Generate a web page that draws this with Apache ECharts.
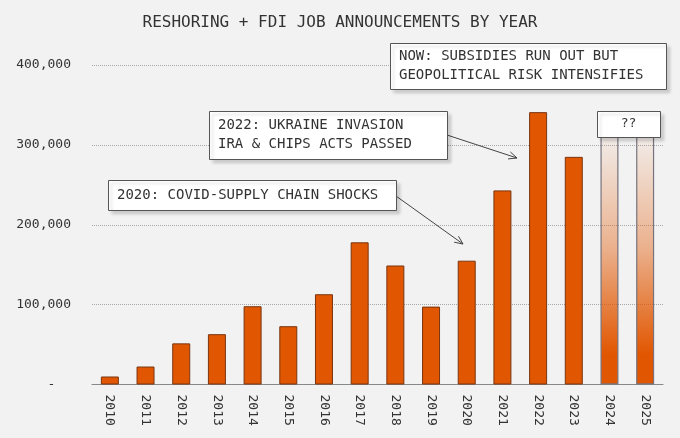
<!DOCTYPE html>
<html>
<head>
<meta charset="utf-8">
<script src="https://cdn.jsdelivr.net/npm/echarts@6/dist/echarts.min.js"></script>
<style>
  html, body { margin: 0; padding: 0; background: #f2f2f2; }
  #chart { width: 680px; height: 438px; }
</style>
</head>
<body>
<div id="chart"></div>
<script>
// data
const years = ['2010', '2011', '2012', '2013', '2014', '2015', '2016', '2017',
  '2018', '2019', '2020', '2021', '2022', '2023', '2024', '2025'];
const jobs = [10000, 22500, 51500, 63000, 98000, 73000, 113000, 178000,
  149000, 97500, 155000, 243000, 341000, 285000, null, null];
const projected = [null, null, null, null, null, null, null, null,
  null, null, null, null, null, null, 310000, 310000];
const yTicks = [0, 100000, 200000, 300000, 400000];

const FONT = '"DejaVu Sans Mono", "Liberation Mono", monospace';
const INK = '#333';

// annotation box: white rect with soft shadow + lines of text
const noteBox = (x, y, w, h, lines, opts = {}) => {
  const size = opts.size || 14;
  const lh = opts.lineHeight || 18.5;
  const children = [{
    type: 'rect',
    z: 100,
    shape: { x: x + 0.5, y: y + 0.5, width: w, height: h },
    style: {
      fill: '#fff', stroke: '#555', lineWidth: 1,
      shadowColor: 'rgba(0,0,0,0.16)', shadowOffsetX: 3, shadowOffsetY: 3, shadowBlur: 3
    }
  }];
  const top = y + h / 2 - (lines.length - 1) * lh / 2;
  lines.forEach((t, i) => {
    children.push({
      type: 'text',
      z: 101,
      style: {
        text: t,
        x: opts.center ? x + w / 2 : x + 9,
        y: top + i * lh,
        font: `${size}px ${FONT}`,
        fill: INK,
        align: opts.center ? 'center' : 'left',
        verticalAlign: 'middle'
      }
    });
  });
  return { type: 'group', children };
};

// thin line with an open "V" head
const arrow = (x0, y0, x1, y1) => {
  const a = Math.atan2(y1 - y0, x1 - x0);
  const len = 9, spread = 0.42;
  const h1 = [x1 - len * Math.cos(a - spread), y1 - len * Math.sin(a - spread)];
  const h2 = [x1 - len * Math.cos(a + spread), y1 - len * Math.sin(a + spread)];
  const st = { stroke: '#444', lineWidth: 1, fill: null };
  return {
    type: 'group',
    children: [
      { type: 'polyline', z: 99, shape: { points: [[x0, y0], [x1, y1]] }, style: st },
      { type: 'polyline', z: 99, shape: { points: [h1, [x1, y1], h2] }, style: st }
    ]
  };
};

const chart = echarts.init(document.getElementById('chart'));

chart.setOption({
  backgroundColor: '#f2f2f2',
  animation: false,
  title: {
    text: 'RESHORING + FDI JOB ANNOUNCEMENTS BY YEAR',
    left: 'center',
    top: 10,
    textStyle: { fontFamily: FONT, fontSize: 16, fontWeight: 'normal', color: INK }
  },
  grid: { left: 92, right: 17, top: 65, bottom: 53.5 },
  xAxis: {
    type: 'category',
    data: years,
    axisLine: { lineStyle: { color: '#888', width: 1.2 } },
    axisTick: { show: false },
    axisLabel: {
      rotate: -90,
      margin: 10,
      interval: 0,
      fontFamily: FONT,
      fontSize: 13,
      color: INK
    }
  },
  yAxis: {
    type: 'value',
    min: yTicks[0],
    max: yTicks[yTicks.length - 1],
    interval: 100000,
    axisLine: { show: false },
    axisTick: { show: false },
    splitLine: { lineStyle: { color: '#a8a8a8', type: [1, 1], width: 1 } },
    axisLabel: {
      margin: 21,
      fontFamily: FONT,
      fontSize: 13,
      color: INK,
      formatter: v => (v === 0 ? '-  ' : v.toLocaleString('en-US'))
    }
  },
  series: [
    {
      name: 'Jobs',
      type: 'bar',
      data: jobs,
      barWidth: 18,
      barGap: '-100%',
      itemStyle: { color: '#e15600', borderColor: '#7a3510', borderWidth: 1 }
    },
    {
      name: 'Projected',
      type: 'bar',
      data: projected,
      barWidth: 18,
      itemStyle: {
        color: new echarts.graphic.LinearGradient(0, 0, 0, 1, [
          { offset: 0, color: 'rgba(225,86,0,0.04)' },
          { offset: 0.45, color: 'rgba(225,86,0,0.42)' },
          { offset: 0.88, color: 'rgba(225,86,0,1)' },
          { offset: 1, color: 'rgba(225,86,0,1)' }
        ]),
        borderColor: '#77737c',
        borderWidth: 1.2
      }
    }
  ],
  graphic: [
    noteBox(390, 43, 276, 46, ['NOW: SUBSIDIES RUN OUT BUT', 'GEOPOLITICAL RISK INTENSIFIES']),
    noteBox(209, 111, 238, 48, ['2022: UKRAINE INVASION', 'IRA & CHIPS ACTS PASSED']),
    noteBox(108, 180, 288, 30, ['2020: COVID-SUPPLY CHAIN SHOCKS']),
    noteBox(597, 111, 63, 26, ['??'], { center: true, size: 13 }),
    arrow(447, 135, 517, 158),
    arrow(396, 196, 463, 244)
  ]
});
</script>
</body>
</html>
